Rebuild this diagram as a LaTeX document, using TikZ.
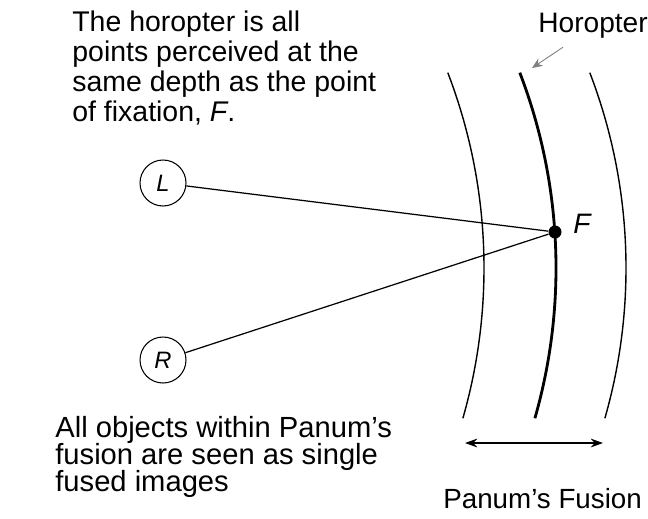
\documentclass[tikz,border=0pt]{standalone}
\usepackage{fontspec}
\setmainfont{Liberation Sans}
\usetikzlibrary{arrows.meta}
\setlength{\lineskiplimit}{-20pt}

\begin{document}
\begin{tikzpicture}[x=0.02cm, y=0.02cm,
    eye/.style={draw, circle, line width=0.6pt, minimum size=0.92cm, inner sep=0pt,
      font=\fontsize{13.5}{15}\selectfont\itshape},
    fixdot/.style={circle, fill, minimum size=0.26cm, inner sep=0pt},
    sightline/.style={line width=0.7pt},
    fusearc/.style={line width=0.8pt},
    blurb/.style={align=left, inner sep=0pt, anchor=north west},
    tag/.style={anchor=base west, inner sep=0pt}]
  \useasboundingbox (0,0) rectangle (648,-518);

  \node[blurb, font=\fontsize{16.2}{17}\selectfont] (horotext) at (72,-11)
    {The horopter is all\\points perceived at the\\same depth as the point\\of fixation, \textit{F}.};
  \node[blurb, font=\fontsize{16.6}{15.3}\selectfont] (fusetext) at (55,-416)
    {All objects within Panum’s\\fusion are seen as single\\fused images};

  \node[eye] (L) at (163,-183) {L};
  \node[eye] (R) at (163,-360) {R};
  \node[fixdot] (F) at (555,-232) {};
  \node[tag, font=\fontsize{16}{18}\selectfont\itshape] (Flab) at (573,-233) {F};

  % three arcs, the middle one is the horopter
  \coordinate (cl) at (-61,-268);
  \coordinate (cm) at (11,-268);
  \coordinate (cr) at (81,-268);
  \draw[fusearc] (cl) ++(21:545) arc[start angle=21, end angle=-16, radius=545];
  \draw[line width=1.6pt] (cm) ++(21:545) arc[start angle=21, end angle=-16, radius=545];
  \draw[fusearc] (cr) ++(21:545) arc[start angle=21, end angle=-16, radius=545];

  \draw[sightline] (L) -- (F);
  \draw[sightline] (R) -- (F);

  \node[tag, font=\fontsize{16}{18}\selectfont] (horo) at (538,-32) {Horopter};
  \coordinate (hp) at (532,-68);
  \draw[gray, line width=0.5pt, -{Stealth[length=6pt, width=5pt]}]
    ([shift={(25,-9)}]horo.south west) -- (hp);

  \coordinate (pl) at (465,-443);
  \coordinate (pr) at (603,-443);
  \draw[fusearc, {Stealth[length=7pt, width=5pt]}-{Stealth[length=7pt, width=5pt]}] (pl) -- (pr);
  \node[tag, font=\fontsize{15.8}{18}\selectfont] (panum) at (443,-508) {Panum’s Fusion};
\end{tikzpicture}
\end{document}
